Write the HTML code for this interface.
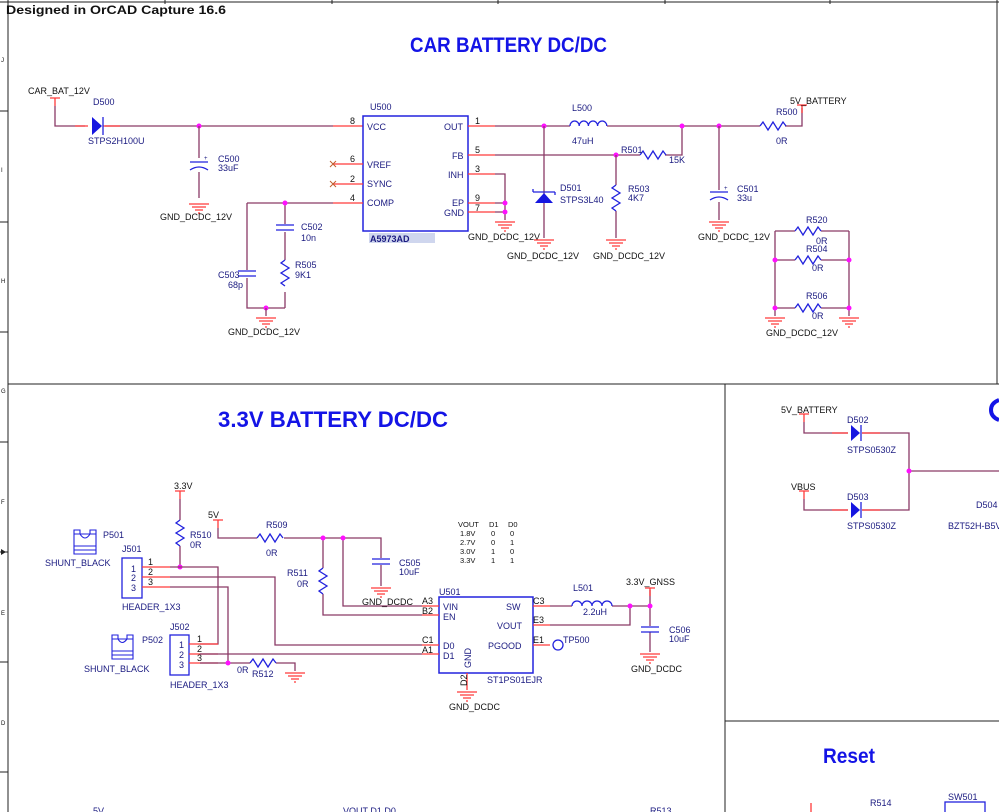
<!DOCTYPE html>
<html><head><meta charset="utf-8"><style>
html,body{margin:0;padding:0;background:#fff;}
svg{display:block;}
text{font-family:"Liberation Sans",sans-serif;}
.k{fill:#111;font-size:9px;}
.b{fill:#1a1a80;font-size:9px;}
.w{stroke:#8a3a66;stroke-width:1.3;fill:none;}
.p{stroke:#ff3a3a;stroke-width:1.3;fill:none;}
.c{stroke:#2222dd;stroke-width:1.3;fill:none;}
.j{fill:#ff10ff;}
.f{stroke:#222;stroke-width:1;fill:none;}
</style></head><body>
<svg width="999" height="812" viewBox="0 0 999 812" xmlns="http://www.w3.org/2000/svg">
<defs>
<g id="gnd"><path class="p" d="M-10 0H10M-7 3H7M-4 6H4M-1 9H1"/></g>
<g id="pwr"><path class="p" d="M-5 0H5M0 0V8"/></g>
<g id="rh"><path class="c" d="M0 0l3-4 5 8 5-8 5 8 5-8 3 4"/></g>
<g id="rv"><path class="c" d="M0 0l-4 3 8 5-8 5 8 5-8 5 4 3"/></g>
<g id="capv"><path class="c" d="M-9 0H9M-9 5H9"/></g>
<g id="ecap"><path class="c" d="M-9 0H9M-9 8Q0 2 9 8"/><text x="5" y="-2" class="b" style="font-size:6px">+</text></g>
<g id="gndn"><path class="p" d="M-10 0H10M-7 3H7M-4 6H4M-1 9H1"/></g>
</defs>

<!-- frame -->
<path class="f" d="M8 0V812M0 2H999M997 0V384M8 384H999M725 384V812M725 721H999"/>
<path class="f" d="M0 111H8M0 222H8M0 332H8M0 442H8M0 552H8M0 662H8M0 772H8M165 0V4M332 0V4M498 0V4M665 0V4M830 0V4"/>
<text x="1" y="62" class="k" style="font-size:6px">J</text>
<text x="1" y="172" class="k" style="font-size:6px">I</text>
<text x="1" y="283" class="k" style="font-size:6px">H</text>
<text x="1" y="393" class="k" style="font-size:6px">G</text>
<text x="1" y="504" class="k" style="font-size:6px">F</text>
<text x="1" y="615" class="k" style="font-size:6px">E</text>
<text x="1" y="725" class="k" style="font-size:6px">D</text>
<path d="M1 549L6 552L1 555Z" fill="#222"/>
<text x="6" y="14" style="font-size:11.5px;font-weight:bold;fill:#111" textLength="220" lengthAdjust="spacingAndGlyphs">Designed in OrCAD Capture 16.6</text>

<text x="410" y="52" style="font-size:21px;font-weight:bold;fill:#1414e6" textLength="197" lengthAdjust="spacingAndGlyphs">CAR BATTERY DC/DC</text>

<!-- ====== TOP SECTION ====== -->
<text x="28" y="94" class="k">CAR_BAT_12V</text>
<use href="#pwr" x="55" y="98"/>
<path class="w" d="M55 106V126H85M105 126H333"/>
<path class="p" d="M75 126H88M103 126H120M333 126H363"/>
<path d="M92 117V135L102 126Z" fill="#1616e0"/><path class="c" d="M103 117V135"/>
<text x="93" y="105" class="b">D500</text>
<text x="88" y="144" class="b">STPS2H100U</text>
<circle class="j" cx="199" cy="126" r="2.5"/>
<path class="w" d="M199 126V158M199 172V198"/>
<use href="#ecap" x="199" y="162"/>
<use href="#gnd" x="199" y="204"/>
<text x="218" y="162" class="b">C500</text><text x="218" y="171" class="b">33uF</text>
<text x="160" y="220" class="k">GND_DCDC_12V</text>

<!-- U500 -->
<rect x="363" y="116" width="105" height="115" class="c" style="stroke-width:1.5"/>
<text x="370" y="110" class="b">U500</text>
<rect x="369" y="233" width="66" height="10" fill="#cfd6ee"/>
<text x="370" y="242" class="b" style="font-weight:bold">A5973AD</text>
<text x="367" y="130" class="b">VCC</text><text x="444" y="130" class="b">OUT</text>
<text x="367" y="168" class="b">VREF</text><text x="452" y="159" class="b">FB</text>
<text x="367" y="187" class="b">SYNC</text><text x="448" y="178" class="b">INH</text>
<text x="367" y="206" class="b">COMP</text><text x="452" y="206" class="b">EP</text>
<text x="444" y="216" class="b">GND</text>
<text x="350" y="124" class="k">8</text><text x="350" y="162" class="k">6</text>
<text x="350" y="182" class="k">2</text><text x="350" y="201" class="k">4</text>
<text x="475" y="124" class="k">1</text><text x="475" y="153" class="k">5</text>
<text x="475" y="172" class="k">3</text><text x="475" y="201" class="k">9</text><text x="475" y="211" class="k">7</text>
<path class="p" d="M333 164H363M333 184H363M333 203H363M468 126H495M468 155H495M468 174H495M468 203H495M468 212H495"/>
<path d="M330 161l6 6M336 161l-6 6M330 181l6 6M336 181l-6 6" stroke="#c06030" stroke-width="1"/>
<path class="w" d="M247 203H333M285 203V224M285 232V260M285 292V308M247 203V270M247 278V308H285"/>
<circle class="j" cx="285" cy="203" r="2.5"/>
<use href="#capv" x="285" y="225"/>
<use href="#rv" x="285" y="260"/>
<use href="#capv" x="247" y="271"/>
<circle class="j" cx="266" cy="308" r="2.5"/>
<path class="w" d="M266 308V316"/>
<use href="#gnd" x="266" y="318"/>
<text x="301" y="230" class="b">C502</text><text x="301" y="241" class="b">10n</text>
<text x="295" y="268" class="b">R505</text><text x="295" y="278" class="b">9K1</text>
<text x="218" y="278" class="b">C503</text><text x="228" y="288" class="b">68p</text>
<text x="228" y="335" class="k">GND_DCDC_12V</text>
<path class="w" d="M495 174H505V220M495 203H505M495 212H505"/>
<circle class="j" cx="505" cy="203" r="2.5"/><circle class="j" cx="505" cy="212" r="2.5"/>
<use href="#gnd" x="505" y="222"/>
<text x="468" y="240" class="k">GND_DCDC_12V</text>

<path class="w" d="M495 126H570M607 126H760M785 126H802V108M495 155H640M665 155H682V126"/>
<path class="c" d="M570 126a4.6 5 0 0 1 9.2 0a4.6 5 0 0 1 9.2 0a4.6 5 0 0 1 9.2 0a4.6 5 0 0 1 9.2 0"/>
<text x="572" y="111" class="b">L500</text><text x="572" y="144" class="b">47uH</text>
<use href="#pwr" x="812" y="105" transform="translate(-10 0)"/>
<text x="790" y="104" class="k">5V_BATTERY</text>
<use href="#rh" x="760" y="126"/>
<text x="776" y="115" class="b">R500</text><text x="776" y="144" class="b">0R</text>
<circle class="j" cx="544" cy="126" r="2.5"/><circle class="j" cx="682" cy="126" r="2.5"/><circle class="j" cx="719" cy="126" r="2.5"/>
<path class="w" d="M544 126V238"/>
<path d="M535 203H553L544 193Z" fill="#1616e0"/><path class="c" d="M533 192H555M533 192v-3M555 192v3"/>
<text x="560" y="191" class="b">D501</text><text x="560" y="203" class="b">STPS3L40</text>
<use href="#gnd" x="544" y="240"/>
<text x="507" y="259" class="k">GND_DCDC_12V</text>
<use href="#rh" x="640" y="155"/>
<circle class="j" cx="616" cy="155" r="2.5"/>
<text x="621" y="153" class="b">R501</text><text x="669" y="163" class="b">15K</text>
<path class="w" d="M616 155V185M616 211V238"/>
<use href="#rv" x="616" y="185"/>
<use href="#gnd" x="616" y="240"/>
<text x="628" y="192" class="b">R503</text><text x="628" y="201" class="b">4K7</text>
<text x="593" y="259" class="k">GND_DCDC_12V</text>
<path class="w" d="M719 126V190M719 202V220"/>
<use href="#ecap" x="719" y="192"/>
<use href="#gnd" x="719" y="222"/>
<text x="737" y="192" class="b">C501</text><text x="737" y="201" class="b">33u</text>
<text x="698" y="240" class="k">GND_DCDC_12V</text>
<path class="w" d="M775 231V316M849 231V316M775 231H795M821 231H849M775 260H795M821 260H849M775 308H795M821 308H849"/>
<use href="#rh" x="795" y="231"/><use href="#rh" x="795" y="260"/><use href="#rh" x="795" y="308"/>
<circle class="j" cx="775" cy="260" r="2.5"/><circle class="j" cx="849" cy="260" r="2.5"/>
<circle class="j" cx="775" cy="308" r="2.5"/><circle class="j" cx="849" cy="308" r="2.5"/>
<use href="#gnd" x="775" y="318"/><use href="#gnd" x="849" y="318"/>
<text x="806" y="223" class="b">R520</text><text x="816" y="244" class="b">0R</text>
<text x="806" y="252" class="b">R504</text><text x="812" y="271" class="b">0R</text>
<text x="806" y="299" class="b">R506</text><text x="812" y="319" class="b">0R</text>
<text x="766" y="336" class="k">GND_DCDC_12V</text>

<!-- ====== 3.3V SECTION ====== -->
<text x="218" y="427" style="font-size:22px;font-weight:bold;fill:#1414e6" textLength="230" lengthAdjust="spacingAndGlyphs">3.3V BATTERY DC/DC</text>
<text x="174" y="489" class="k">3.3V</text>
<use href="#pwr" x="180" y="491"/>
<path class="w" d="M180 499V520M180 546V567"/>
<use href="#rv" x="180" y="520"/>
<text x="190" y="538" class="b">R510</text><text x="190" y="548" class="b">0R</text>
<circle class="j" cx="180" cy="567" r="2.5"/>
<!-- shunt P501 -->
<g class="c" style="stroke-width:1.1">
<path d="M74 534h22v20h-22zM74 546h22M74 550h22M74 534v-4h6v4M90 534v-4h6v4M80 534q5 8 10 0"/>
</g>
<text x="103" y="538" class="b">P501</text><text x="45" y="566" class="b">SHUNT_BLACK</text>
<rect x="122" y="558" width="20" height="40" class="c"/>
<text x="131" y="572" class="b">1</text><text x="131" y="581" class="b">2</text><text x="131" y="591" class="b">3</text>
<text x="122" y="552" class="b">J501</text><text x="122" y="610" class="b">HEADER_1X3</text>
<path class="p" d="M142 567H170M142 577H170M142 587H170"/>
<text x="148" y="565" class="k">1</text><text x="148" y="575" class="k">2</text><text x="148" y="585" class="k">3</text>
<path class="w" d="M170 567H218V644H200M170 577H275V645H422M170 587H228V663"/>
<g class="c" style="stroke-width:1.1">
<path d="M112 639h21v20h-21zM112 651h21M112 655h21M112 639v-4h6v4M127 639v-4h6v4M118 639q4 7 9 0"/>
</g>
<text x="142" y="643" class="b">P502</text><text x="84" y="672" class="b">SHUNT_BLACK</text>
<rect x="170" y="635" width="19" height="40" class="c"/>
<text x="179" y="648" class="b">1</text><text x="179" y="658" class="b">2</text><text x="179" y="668" class="b">3</text>
<text x="170" y="630" class="b">J502</text><text x="170" y="688" class="b">HEADER_1X3</text>
<path class="p" d="M189 644H218M189 654H218M189 663H218"/>
<text x="197" y="642" class="k">1</text><text x="197" y="652" class="k">2</text><text x="197" y="661" class="k">3</text>
<path class="w" d="M200 654H422M200 663H250M276 663H295V671"/>
<circle class="j" cx="228" cy="663" r="2.5"/>
<use href="#rh" x="250" y="663"/>
<use href="#gnd" x="295" y="673"/>
<text x="237" y="673" class="b">0R</text><text x="252" y="677" class="b">R512</text>

<text x="208" y="518" class="k">5V</text>
<use href="#pwr" x="218" y="520"/>
<path class="w" d="M218 528V538H257M284 538H381V558M381 565V586M323 538V568M323 594V615H422M343 538V606H422"/>
<use href="#rh" x="257" y="538"/>
<text x="266" y="528" class="b">R509</text><text x="266" y="556" class="b">0R</text>
<circle class="j" cx="323" cy="538" r="2.5"/><circle class="j" cx="343" cy="538" r="2.5"/>
<use href="#rv" x="323" y="568"/>
<text x="287" y="576" class="b">R511</text><text x="297" y="587" class="b">0R</text>
<use href="#capv" x="381" y="559"/>
<use href="#gnd" x="381" y="588"/>
<text x="399" y="566" class="b">C505</text><text x="399" y="575" class="b">10uF</text>
<text x="362" y="605" class="k">GND_DCDC</text>

<g class="k" style="font-size:7.5px">
<text x="458" y="527">VOUT</text><text x="489" y="527">D1</text><text x="508" y="527">D0</text>
<text x="460" y="536">1.8V</text><text x="491" y="536">0</text><text x="510" y="536">0</text>
<text x="460" y="545">2.7V</text><text x="491" y="545">0</text><text x="510" y="545">1</text>
<text x="460" y="554">3.0V</text><text x="491" y="554">1</text><text x="510" y="554">0</text>
<text x="460" y="563">3.3V</text><text x="491" y="563">1</text><text x="510" y="563">1</text>
</g>

<rect x="439" y="597" width="94" height="76" class="c" style="stroke-width:1.5"/>
<text x="439" y="595" class="b">U501</text>
<text x="443" y="610" class="b">VIN</text><text x="443" y="620" class="b">EN</text>
<text x="443" y="649" class="b">D0</text><text x="443" y="659" class="b">D1</text>
<text x="506" y="610" class="b">SW</text><text x="497" y="629" class="b">VOUT</text><text x="488" y="649" class="b">PGOOD</text>
<text transform="translate(471 668) rotate(-90)" class="b">GND</text>
<text x="487" y="683" class="b">ST1PS01EJR</text>
<path class="p" d="M422 606H439M422 615H439M422 645H439M422 654H439M533 606H550M533 625H550M533 645H550M467 673V690"/>
<text x="422" y="604" class="k">A3</text><text x="422" y="614" class="k">B2</text>
<text x="422" y="643" class="k">C1</text><text x="422" y="653" class="k">A1</text>
<text x="533" y="604" class="k">C3</text><text x="533" y="623" class="k">E3</text><text x="533" y="643" class="k">E1</text>
<text transform="translate(467 686) rotate(-90)" class="k">D2</text>
<use href="#gnd" x="467" y="692"/>
<text x="449" y="710" class="k">GND_DCDC</text>
<path class="w" d="M550 606H572M612 606H650M550 625H630V606M650 590V626M650 632V652"/>
<path class="c" d="M572 606a5 5 0 0 1 10 0a5 5 0 0 1 10 0a5 5 0 0 1 10 0a5 5 0 0 1 10 0"/>
<text x="573" y="591" class="b">L501</text><text x="583" y="615" class="b">2.2uH</text>
<circle class="j" cx="630" cy="606" r="2.5"/><circle class="j" cx="650" cy="606" r="2.5"/>
<circle cx="558" cy="645" r="5" class="c"/>
<text x="563" y="643" class="b">TP500</text>
<text x="626" y="585" class="k">3.3V_GNSS</text>
<use href="#pwr" x="650" y="588"/>
<use href="#capv" x="650" y="627"/>
<use href="#gnd" x="650" y="654"/>
<text x="669" y="633" class="b">C506</text><text x="669" y="642" class="b">10uF</text>
<text x="631" y="672" class="k">GND_DCDC</text>

<!-- ====== RIGHT SECTION ====== -->
<text x="781" y="413" class="k">5V_BATTERY</text>
<use href="#pwr" x="804" y="414"/>
<path class="w" d="M804 422V433H848M862 433H909V510H862M909 471H999M848 510H804V499"/>
<path class="p" d="M832 433H848M862 433H880M832 510H848M862 510H880"/>
<path d="M851 425V441L860 433Z" fill="#1616e0"/><path class="c" d="M861 425V441"/>
<path d="M851 502V518L860 510Z" fill="#1616e0"/><path class="c" d="M861 502V518"/>
<circle class="j" cx="909" cy="471" r="2.5"/>
<text x="847" y="423" class="b">D502</text><text x="847" y="453" class="b">STPS0530Z</text>
<text x="791" y="490" class="k">VBUS</text>
<use href="#pwr" x="804" y="491"/>
<text x="847" y="500" class="b">D503</text><text x="847" y="529" class="b">STPS0530Z</text>
<text x="976" y="508" class="b">D504</text><text x="948" y="529" class="b">BZT52H-B5V</text>
<path d="M999 400Q991 403 991 410Q991 417 999 420" stroke="#1414e6" stroke-width="4" fill="none"/>

<text x="823" y="763" style="font-size:21px;font-weight:bold;fill:#1414e6" textLength="52" lengthAdjust="spacingAndGlyphs">Reset</text>
<text x="948" y="800" class="b">SW501</text>
<rect x="945" y="802" width="40" height="14" class="c"/>
<text x="870" y="806" class="b">R514</text>
<path class="p" d="M811 803V812"/>
<text x="93" y="814" class="b">5V</text><text x="343" y="814" class="b">VOUT D1 D0</text><text x="650" y="814" class="b">R513</text>
</svg>
</body></html>
